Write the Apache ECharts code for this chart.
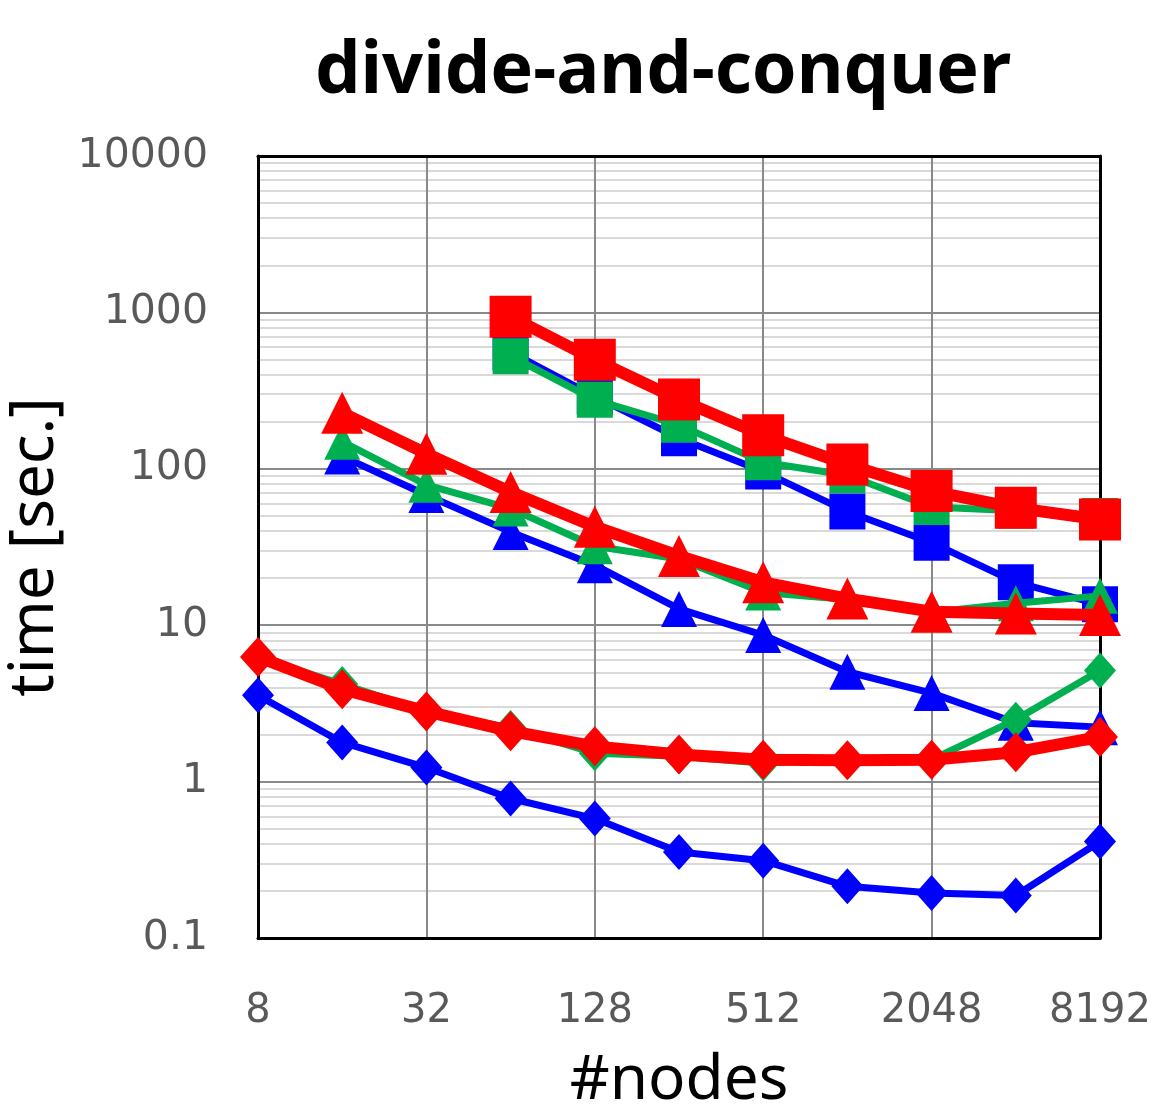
<!DOCTYPE html>
<html>
<head>
    <meta charset="UTF-8">
    <title>divide-and-conquer</title>
    <script src="https://cdn.jsdelivr.net/npm/echarts@6/dist/echarts.min.js"></script>
    <style>
        body { margin: 0; padding: 0; background: #fff; }
        #main { width: 1155px; height: 1109px; }
    </style>
</head>
<body>
    <div id="main"></div>
<script>
    // 节点数（横轴，2 的幂）
    var nodes = ['8', '16', '32', '64', '128', '256', '512', '1024', '2048', '4096', '8192'];

    // 菱形
    var blueDiamond  = [3.56, 1.78, 1.23, 0.78, 0.58, 0.355, 0.312, 0.214, 0.194, 0.187, 0.414];
    var greenDiamond = [6.2, 4.2, 2.8, 2.2, 1.52, 1.45, 1.31, 1.4, 1.38, 2.49, 5.14];
    var redDiamond   = [6.27, 3.9, 2.81, 2.1, 1.68, 1.49, 1.38, 1.37, 1.38, 1.54, 1.93];

    // 三角形
    var blueTriangle  = [null, 120, 68, 39.5, 24.2, 12.7, 8.65, 5.04, 3.68, 2.38, 2.23];
    var greenTriangle = [null, 149, 79, 55.7, 32, 26.5, 16.2, 14.6, 12.1, 13.8, 15.4];
    var redTriangle   = [null, 228, 125, 71, 42.6, 27.7, 18.8, 14.8, 12.2, 11.9, 11.6];

    // 方块
    var blueSquare  = [null, null, null, 557, 290, 157, 96, 53.3, 33.7, 18.8, 13.6];
    var greenSquare = [null, null, null, 525, 276, 191, 110, 91, 57, 54, 50];
    var redSquare   = [null, null, null, 938, 498, 277, 164, 106.5, 72, 56.3, 47.4];

    var BLUE = '#0000ff', GREEN = '#00b050', RED = '#ff0000';

    // 对数轴的次网格线 2..9
    var minorLines = [];
    [0.1, 1, 10, 100, 1000].forEach(function (d) {
        for (var k = 2; k <= 9; k++) minorLines.push({ yAxis: +(k * d).toPrecision(3) });
    });

    function mk(data, color, symbol, size, width, z) {
        return {
            type: 'line',
            data: data,
            symbol: symbol,
            symbolSize: size,
            showAllSymbol: true,
            clip: false,
            z: z,
            itemStyle: { color: color },
            lineStyle: { color: color, width: width },
            emphasis: { disabled: true }
        };
    }

    var black = { show: true, lineStyle: { color: '#000', width: 3 } };

    var myChart = echarts.init(document.getElementById('main'));
    var option = {
        animation: false,
        backgroundColor: '#fff',
        title: {
            text: 'divide-and-conquer',
            left: 310,
            top: 31,
            textStyle: { fontFamily: 'Noto Sans', fontWeight: 'bold', fontSize: 72, color: '#000' }
        },
        grid: {
            left: 258, right: 55, top: 156, bottom: 171,
            outerBoundsMode: 'none',
            containLabel: false
        },
        xAxis: [{
            type: 'category',
            data: nodes,
            boundaryGap: false,
            name: '#nodes',
            nameLocation: 'middle',
            nameGap: 112,
            nameTextStyle: { fontFamily: 'Noto Sans', fontSize: 62, color: '#000' },
            axisLine: black,
            axisTick: { show: false },
            axisLabel: { interval: 1, margin: 54, fontFamily: 'DejaVu Sans', fontSize: 40, color: '#595959' },
            splitLine: { show: true, interval: 1, lineStyle: { color: '#898989', width: 2 } },
            z: 10
        }, {
            type: 'category',
            data: nodes,
            boundaryGap: false,
            position: 'top',
            axisLine: black,
            axisTick: { show: false },
            axisLabel: { show: false },
            splitLine: { show: false },
            z: 10
        }],
        yAxis: [{
            type: 'log',
            logBase: 10,
            min: 0.1,
            max: 10000,
            name: 'time [sec.]',
            nameLocation: 'middle',
            nameGap: 140,
            nameTextStyle: { fontFamily: 'Noto Sans', fontSize: 62, color: '#000' },
            axisLine: black,
            axisTick: { show: false },
            axisLabel: {
                margin: 50, fontFamily: 'DejaVu Sans', fontSize: 41, color: '#595959',
                formatter: function (v) { return String(v); }
            },
            splitLine: { show: true, lineStyle: { color: '#898989', width: 2 } },
            z: 10
        }, {
            type: 'log',
            logBase: 10,
            min: 0.1,
            max: 10000,
            position: 'right',
            axisLine: black,
            axisTick: { show: false },
            axisLabel: { show: false },
            splitLine: { show: false },
            z: 10
        }],
        series: [
            {
                type: 'line',
                data: [],
                z: 1,
                silent: true,
                markLine: {
                    silent: true,
                    symbol: 'none',
                    label: { show: false },
                    lineStyle: { color: '#d9d9d9', width: 2, type: 'solid' },
                    data: minorLines
                }
            },
            mk(blueDiamond, BLUE, 'diamond', [32, 36], 7, 13),
            mk(blueTriangle, BLUE, 'triangle', 36, 7, 13),
            mk(blueSquare, BLUE, 'rect', 36, 7, 13),
            mk(greenDiamond, GREEN, 'diamond', [32, 36], 7, 14),
            mk(greenTriangle, GREEN, 'triangle', 36, 7, 14),
            mk(greenSquare, GREEN, 'rect', 36, 7, 14),
            mk(redDiamond, RED, 'diamond', [36, 40], 12, 15),
            mk(redTriangle, RED, 'triangle', 42, 12, 15),
            mk(redSquare, RED, 'rect', 42, 12, 15)
        ]
    };
    myChart.setOption(option);
</script>
</body>
</html>
